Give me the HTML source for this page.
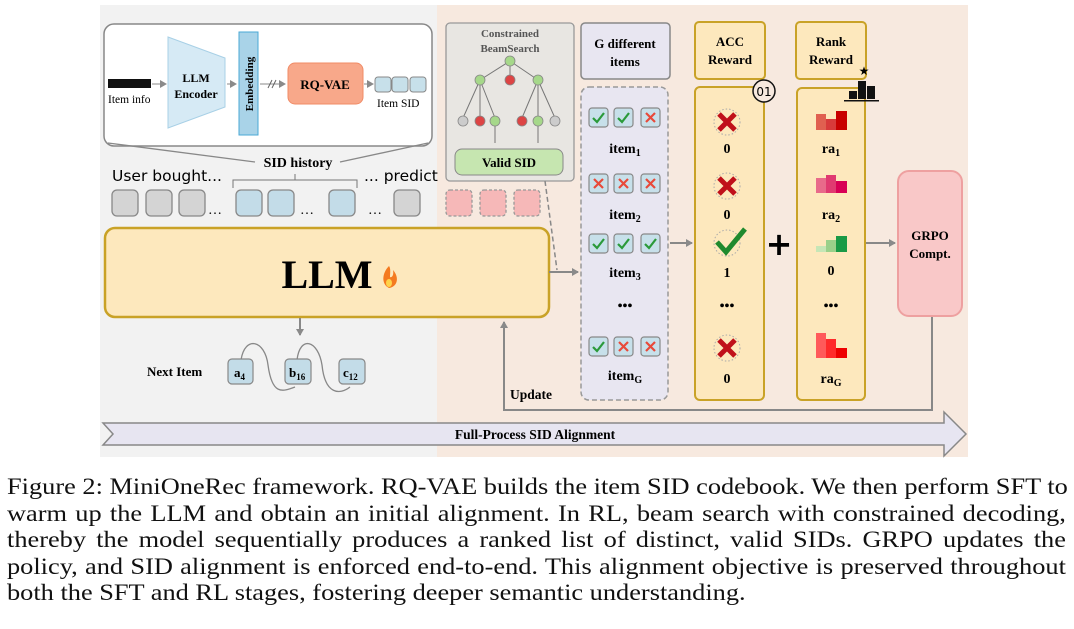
<!DOCTYPE html>
<html><head><meta charset="utf-8"><style>
body{margin:0;width:1074px;height:629px;background:#fff;overflow:hidden;position:relative;font-family:"Liberation Serif",serif}
svg{position:absolute;left:0;top:0}
.cap{position:absolute;left:7px;width:924px;font-size:23px;line-height:26.5px;text-align:justify;text-align-last:justify;white-space:nowrap;color:#111;transform:scaleX(1.146);transform-origin:0 0}
.cap.l{text-align-last:left}
</style></head><body>
<svg width="1074" height="460" viewBox="0 0 1074 460" font-family="Liberation Serif, serif">
<defs>
<marker id="ar" markerWidth="8" markerHeight="8" refX="6" refY="4" orient="auto" markerUnits="userSpaceOnUse"><path d="M0,0 L7,4 L0,8 z" fill="#8a8a8a"/></marker>
<g id="ck"><rect x="0" y="0" width="19" height="19" rx="3" fill="#c7e0ea" stroke="#888" stroke-width="1.2"/><path d="M4,10 L8,14 L15,5" fill="none" stroke="#2a9a3a" stroke-width="2.2"/></g>
<g id="xx"><rect x="0" y="0" width="19" height="19" rx="3" fill="#c7e0ea" stroke="#888" stroke-width="1.2"/><path d="M5,5 L14,14 M14,5 L5,14" stroke="#e84a3a" stroke-width="2.2"/></g>
<g id="bx"><circle cx="0" cy="0" r="13" fill="none" stroke="#aaa" stroke-dasharray="1.5 2"/><path d="M-8,-8 L8,8 M8,-8 L-8,8" stroke="#c0101a" stroke-width="5"/></g>
</defs>
<rect x="100" y="5" width="337" height="452" fill="#f2f2f2"/>
<rect x="437" y="5" width="531" height="452" fill="#f7e9df"/>
<rect x="104" y="24" width="328" height="122" rx="10" fill="#fff" stroke="#888" stroke-width="1.5"/>
<rect x="108" y="79" width="40" height="9" fill="#111"/><rect x="148" y="79" width="3" height="9" fill="#111"/>
<text x="108" y="103" font-size="11.5">Item info</text>
<line x1="152" y1="84" x2="166" y2="84" stroke="#888" marker-end="url(#ar)"/>
<path d="M168,37 L225,58 L225,107 L168,128 Z" fill="#d6eaf5" stroke="#a8d0e6"/>
<text x="196" y="82" font-size="12" font-weight="bold" text-anchor="middle">LLM</text>
<text x="196" y="98" font-size="12" font-weight="bold" text-anchor="middle">Encoder</text>
<line x1="227" y1="84" x2="236" y2="84" stroke="#888" marker-end="url(#ar)"/>
<rect x="239" y="32" width="19" height="103" fill="#a9d3e8" stroke="#4aa8d6"/>
<text transform="translate(253,84) rotate(-90)" font-size="11" font-weight="bold" text-anchor="middle">Embedding</text>
<line x1="260" y1="84" x2="285" y2="84" stroke="#888" marker-end="url(#ar)"/>
<path d="M268,88 L272,80 M272,88 L276,80" stroke="#666"/>
<rect x="288" y="63" width="75" height="41" rx="7" fill="#f8a88a" stroke="#f08b66"/>
<text x="325" y="89" font-size="13" font-weight="bold" text-anchor="middle">RQ-VAE</text>
<line x1="364" y1="84" x2="373" y2="84" stroke="#888" marker-end="url(#ar)"/>
<rect x="375" y="77" width="16" height="15" rx="3" fill="#c7e0ea" stroke="#888"/>
<rect x="392" y="77" width="16" height="15" rx="3" fill="#c7e0ea" stroke="#888"/>
<rect x="410" y="77" width="16" height="15" rx="3" fill="#c7e0ea" stroke="#888"/>
<text x="377" y="107" font-size="11.5">Item SID</text>
<path d="M108,143 L255,162 M428,143 L340,162" stroke="#888" stroke-width="1.3" fill="none"/>
<text x="298" y="167" font-size="14" font-weight="bold" text-anchor="middle">SID history</text>
<text x="112" y="181" font-size="15.5" font-family="DejaVu Sans, sans-serif">User bought...</text>
<text x="364" y="181" font-size="15.5" font-family="DejaVu Sans, sans-serif">... predict</text>
<path d="M233,188 L233,180 L357,180 L357,188 M295,180 L295,174" stroke="#777" fill="none"/>
<g stroke="#888" stroke-width="1.3">
<rect x="112" y="190" width="26" height="26" rx="5" fill="#d4d4d4"/>
<rect x="146" y="190" width="26" height="26" rx="5" fill="#d4d4d4"/>
<rect x="179" y="190" width="26" height="26" rx="5" fill="#d4d4d4"/>
<rect x="236" y="190" width="26" height="26" rx="5" fill="#c3dce8"/>
<rect x="268" y="190" width="26" height="26" rx="5" fill="#c3dce8"/>
<rect x="329" y="190" width="26" height="26" rx="5" fill="#c3dce8"/>
<rect x="394" y="190" width="26" height="26" rx="5" fill="#d4d4d4"/>
</g>
<text x="208" y="214" font-size="14">…</text><text x="300" y="214" font-size="14">…</text><text x="368" y="214" font-size="14">…</text>
<rect x="105" y="228" width="444" height="89" rx="10" fill="#fde8bd" stroke="#c9a227" stroke-width="2.5"/>
<text x="327" y="288" font-size="40" font-weight="bold" text-anchor="middle">LLM</text>
<path d="M389,266 C382,273 381,284 389,288 C397,287 400,278 393,270 C394,275 392,278 390,277 C390,273 391,269 389,266 Z" fill="#f47a20"/>
<ellipse cx="389" cy="283" rx="3" ry="4" fill="#ffd34a"/>
<line x1="300" y1="318" x2="300" y2="335" stroke="#888" stroke-width="2" marker-end="url(#ar)"/>
<text x="147" y="376" font-size="13" font-weight="bold">Next Item</text>
<path d="M241,360 C245,335 265,340 268,365 C272,395 282,392 295,387 M297,360 C300,335 318,340 322,365 C325,395 340,395 350,387" fill="none" stroke="#888" stroke-width="1.3"/>
<g stroke="#888" stroke-width="1.2" fill="#c3dce8">
<rect x="228" y="359" width="25" height="25" rx="4"/><rect x="285" y="359" width="26" height="25" rx="4"/><rect x="339" y="359" width="26" height="25" rx="4"/>
</g>
<text x="234" y="377" font-size="13" font-weight="bold">a<tspan font-size="9" dy="3">4</tspan></text>
<text x="289" y="377" font-size="13" font-weight="bold">b<tspan font-size="9" dy="3">16</tspan></text>
<text x="343" y="377" font-size="13" font-weight="bold">c<tspan font-size="9" dy="3">12</tspan></text>
<path d="M932,316 L932,410 L504,410 L504,322" fill="none" stroke="#888" stroke-width="2" marker-end="url(#ar)"/>
<text x="510" y="399" font-size="13.5" font-weight="bold">Update</text>
<path d="M103,423 L944,423 L944,412 L966,434 L944,456 L944,445 L103,445 L113,434 Z" fill="#e7e5f1" stroke="#888" stroke-width="1.5"/>
<text x="535" y="439" font-size="13.5" font-weight="bold" text-anchor="middle">Full-Process SID Alignment</text>
<rect x="446" y="23" width="128" height="158" rx="4" fill="#e8e6e2" stroke="#999" stroke-width="1.3"/>
<text x="510" y="37" font-size="11" font-weight="bold" fill="#555" text-anchor="middle">Constrained</text>
<text x="510" y="52" font-size="11" font-weight="bold" fill="#555" text-anchor="middle">BeamSearch</text>
<g stroke="#777" stroke-width="1" fill="none">
<path d="M510,61 L480,80 M510,61 L510,78 M510,61 L538,80 M480,80 L463,118 M480,80 L480,118 M480,80 L495,118 M538,80 L522,118 M538,80 L538,118 M538,80 L555,118 M495,121 L495,143 M538,121 L538,143"/>
</g>
<g stroke="#888" stroke-width="0.8">
<circle cx="510" cy="61" r="5" fill="#a6d88a"/><circle cx="480" cy="80" r="5" fill="#a6d88a"/><circle cx="510" cy="80" r="5" fill="#d44"/><circle cx="538" cy="80" r="5" fill="#a6d88a"/>
<circle cx="463" cy="121" r="5" fill="#ccc"/><circle cx="480" cy="121" r="5" fill="#d44"/><circle cx="495" cy="121" r="5" fill="#a6d88a"/>
<circle cx="522" cy="121" r="5" fill="#d44"/><circle cx="538" cy="121" r="5" fill="#a6d88a"/><circle cx="555" cy="121" r="5" fill="#ccc"/>
</g>
<rect x="455" y="149" width="108" height="26" rx="7" fill="#c6e6b0" stroke="#888"/>
<text x="509" y="167" font-size="13" font-weight="bold" text-anchor="middle">Valid SID</text>
<g fill="#f6b8b8" stroke="#999" stroke-dasharray="3 2" stroke-width="1.3">
<rect x="446" y="190" width="26" height="26" rx="4"/><rect x="480" y="190" width="26" height="26" rx="4"/><rect x="514" y="190" width="26" height="26" rx="4"/>
</g>
<path d="M545,181 L557,270" stroke="#888" stroke-width="1.5" stroke-dasharray="5 3"/>
<line x1="549" y1="272" x2="578" y2="272" stroke="#888" stroke-width="2" marker-end="url(#ar)"/>
<rect x="581" y="23" width="89" height="56" rx="4" fill="#e8e6f1" stroke="#888" stroke-width="1.5"/>
<text x="625" y="48" font-size="13" font-weight="bold" text-anchor="middle">G different</text>
<text x="625" y="66" font-size="13" font-weight="bold" text-anchor="middle">items</text>
<rect x="581" y="87" width="87" height="313" rx="8" fill="#e8e6f1" stroke="#999" stroke-width="1.5" stroke-dasharray="5 3"/>
<use href="#ck" x="589" y="108"/><use href="#ck" x="614" y="108"/><use href="#xx" x="641" y="108"/>
<use href="#xx" x="589" y="174"/><use href="#xx" x="614" y="174"/><use href="#xx" x="641" y="174"/>
<use href="#ck" x="589" y="234"/><use href="#ck" x="614" y="234"/><use href="#ck" x="641" y="234"/>
<use href="#ck" x="589" y="337"/><use href="#xx" x="614" y="337"/><use href="#xx" x="641" y="337"/>
<g font-size="14" font-weight="bold" text-anchor="middle">
<text x="625" y="153">item<tspan font-size="10" dy="3">1</tspan></text>
<text x="625" y="219">item<tspan font-size="10" dy="3">2</tspan></text>
<text x="625" y="277">item<tspan font-size="10" dy="3">3</tspan></text>
<text x="625" y="310">•••</text>
<text x="625" y="380">item<tspan font-size="10" dy="3">G</tspan></text>
</g>
<line x1="670" y1="243" x2="692" y2="243" stroke="#888" stroke-width="2" marker-end="url(#ar)"/>
<rect x="695" y="22" width="70" height="57" rx="4" fill="#fde8bd" stroke="#c9a227" stroke-width="2"/>
<text x="730" y="46" font-size="13" font-weight="bold" text-anchor="middle">ACC</text>
<text x="730" y="64" font-size="13" font-weight="bold" text-anchor="middle">Reward</text>
<rect x="695" y="87" width="69" height="313" rx="5" fill="#fde8bd" stroke="#c9a227" stroke-width="2"/>
<circle cx="764" cy="91" r="11" fill="#f7e9df" stroke="#111" stroke-width="1.5"/>
<text x="764" y="96" font-size="12" text-anchor="middle" font-family="DejaVu Sans, sans-serif">01</text>
<use href="#bx" x="727" y="122"/><use href="#bx" x="727" y="186"/><use href="#bx" x="727" y="348"/>
<circle cx="727" cy="243" r="13" fill="none" stroke="#aaa" stroke-dasharray="1.5 2"/>
<path d="M717,242 L726,252 L745,229" fill="none" stroke="#1f8a2e" stroke-width="5"/>
<g font-size="14" font-weight="bold" text-anchor="middle">
<text x="727" y="153">0</text><text x="727" y="219">0</text><text x="727" y="277">1</text><text x="727" y="310">•••</text><text x="727" y="383">0</text>
</g>
<text x="779" y="255" font-size="32" font-weight="bold" text-anchor="middle" font-family="DejaVu Sans, sans-serif">+</text>
<rect x="796" y="22" width="70" height="57" rx="4" fill="#fde8bd" stroke="#c9a227" stroke-width="2"/>
<text x="831" y="46" font-size="13" font-weight="bold" text-anchor="middle">Rank</text>
<text x="831" y="64" font-size="13" font-weight="bold" text-anchor="middle">Reward</text>
<rect x="797" y="88" width="68" height="312" rx="5" fill="#fde8bd" stroke="#c9a227" stroke-width="2"/>
<g fill="#111"><rect x="849" y="91" width="8" height="8"/><rect x="858" y="81" width="8" height="18"/><rect x="867" y="86" width="8" height="13"/><rect x="844" y="100" width="35" height="1.5"/></g>
<text x="864" y="75" font-size="12" text-anchor="middle" font-family="DejaVu Sans, sans-serif">★</text>
<g><rect x="816" y="114" width="10" height="16" fill="#e06050"/><rect x="826" y="119" width="10" height="11" fill="#d83a3a"/><rect x="836" y="111" width="11" height="19" fill="#c80000"/></g>
<g><rect x="816" y="178" width="10" height="15" fill="#e86a8a"/><rect x="826" y="175" width="10" height="18" fill="#e03a70"/><rect x="836" y="181" width="11" height="12" fill="#d80055"/></g>
<g><rect x="816" y="246" width="10" height="6" fill="#c6e6b6"/><rect x="826" y="240" width="10" height="12" fill="#9ad08a"/><rect x="836" y="236" width="11" height="16" fill="#1a9a46"/></g>
<g><rect x="816" y="333" width="10" height="25" fill="#ff5a5a"/><rect x="826" y="339" width="10" height="19" fill="#ff2a2a"/><rect x="836" y="348" width="11" height="10" fill="#ee0000"/></g>
<g font-size="14" font-weight="bold" text-anchor="middle">
<text x="831" y="153">ra<tspan font-size="10" dy="3">1</tspan></text><text x="831" y="219">ra<tspan font-size="10" dy="3">2</tspan></text>
<text x="831" y="275">0</text><text x="831" y="310">•••</text><text x="831" y="383">ra<tspan font-size="10" dy="3">G</tspan></text>
</g>
<line x1="866" y1="243" x2="895" y2="243" stroke="#888" stroke-width="2" marker-end="url(#ar)"/>
<rect x="898" y="171" width="64" height="145" rx="11" fill="#f9c8c8" stroke="#eea0a0" stroke-width="2"/>
<text x="930" y="240" font-size="13" font-weight="bold" text-anchor="middle">GRPO</text>
<text x="930" y="258" font-size="13" font-weight="bold" text-anchor="middle">Compt.</text>
</svg>
<div class="cap" style="top:474px">Figure 2: MiniOneRec framework. RQ-VAE builds the item SID codebook. We then perform SFT to</div>
<div class="cap" style="top:500.5px">warm up the LLM and obtain an initial alignment. In RL, beam search with constrained decoding,</div>
<div class="cap" style="top:527px">thereby the model sequentially produces a ranked list of distinct, valid SIDs. GRPO updates the</div>
<div class="cap" style="top:553.5px">policy, and SID alignment is enforced end-to-end. This alignment objective is preserved throughout</div>
<div class="cap l" style="top:580px">both the SFT and RL stages, fostering deeper semantic understanding.</div>
</body></html>
